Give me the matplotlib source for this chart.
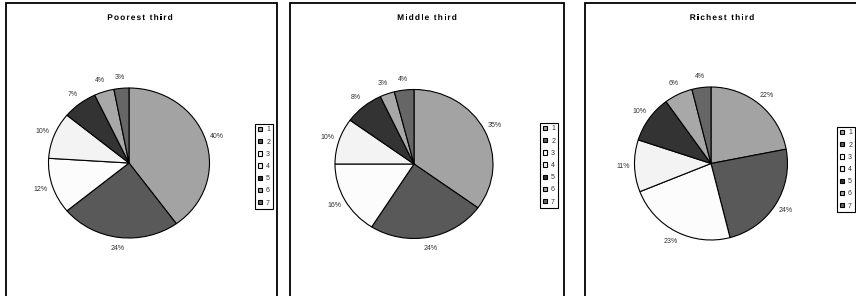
import matplotlib.pyplot as plt
import matplotlib.patches as mpatches
from matplotlib.textpath import TextPath, TextToPath
from matplotlib.font_manager import FontProperties
from matplotlib.transforms import IdentityTransform

plt.rcParams['font.family'] = ['Liberation Sans', 'DejaVu Sans']

W, H, DPI = 856, 296, 100

titles = ['Poorest third', 'Middle third', 'Richest third']
categories = ['1', '2', '3', '4', '5', '6', '7']
poorest = [40, 24, 12, 10, 7, 4, 3]
middle = [35, 24, 16, 10, 8, 3, 4]
richest = [22, 24, 23, 11, 10, 6, 4]
shares = [poorest, middle, richest]

colors = ['#a3a3a3', '#595959', '#fcfcfc', '#f3f3f3', '#333333', '#a8a8a8', '#666666']

# pixel geometry: pie centre, radii, panel box, title x, legend left/centre
pies = [(129, 163, 80.5, 75), (414, 164, 79, 74.5), (711, 163.5, 76.5, 76.5)]
panels = [(5.5, 277), (290, 564), (585, 880)]
title_x = [140, 427, 722]
legend_pos = [(255, 166.5), (540, 165.5), (837, 169.5)]

fig = plt.figure(figsize=(W / DPI, H / DPI), dpi=DPI)
fig.patch.set_facecolor('white')

t2p = TextToPath()
title_prop = FontProperties(family='Liberation Sans', weight='bold')


def spaced_title(xc, baseline, s, px, gap):
    # letter-spaced title drawn as glyph paths so nothing gets snapped to whole pixels
    prop = title_prop.copy()
    prop.set_size(px)
    base = t2p.get_text_width_height_descent('|', prop, ismath=False)[0]
    adv = [t2p.get_text_width_height_descent(ch + '|', prop, ismath=False)[0] - base for ch in s]
    total = sum(adv) + gap * (len(s) - 1)
    x = xc - total / 2
    for ch, w in zip(s, adv):
        if ch != ' ':
            tp = TextPath((x, H - baseline), ch, size=px, prop=title_prop)
            fig.patches.append(mpatches.PathPatch(tp, transform=IdentityTransform(),
                                                  facecolor='black', edgecolor='none'))
        x += w + gap


L = 1.45
for i in range(3):
    x0, x1 = panels[i]
    fig.patches.append(mpatches.Rectangle((x0 / W, -0.1), (x1 - x0) / W, 1.1 - 3 / H,
                                          transform=fig.transFigure, fill=False,
                                          edgecolor='black', linewidth=1.3))
    cx, cy, rx, ry = pies[i]
    ax = fig.add_axes([(cx - L * rx) / W, (H - cy - L * ry) / H, 2 * L * rx / W, 2 * L * ry / H])
    labels = [f'{v}%' for v in shares[i]]
    wedges, texts = ax.pie(shares[i], colors=colors, startangle=90, counterclock=False,
                           labels=labels, labeldistance=1.15,
                           wedgeprops=dict(edgecolor='black', linewidth=0.8),
                           textprops=dict(fontsize=5, color='#333333'))
    for t in texts:
        t.set_ha('center')
        t.set_va('center')
    ax.set_aspect('auto')
    ax.set_xlim(-L, L)
    ax.set_ylim(-L, L)
    ax.axis('off')

    spaced_title(title_x[i], 20, titles[i], 8.3, 1.15)

    handles = [mpatches.Patch(facecolor=c, edgecolor='black', linewidth=0.8) for c in colors]
    lx, ly = legend_pos[i]
    leg = fig.legend(handles, categories, loc='center left',
                     bbox_to_anchor=(lx / W, 1 - ly / H), fontsize=5,
                     handlelength=0.6, handleheight=0.6, handletextpad=0.6,
                     labelspacing=0.75, borderpad=0.4, borderaxespad=0,
                     fancybox=False, framealpha=1)
    leg.get_frame().set_edgecolor('black')
    leg.get_frame().set_linewidth(0.8)
    for t in leg.get_texts():
        t.set_color('#333333')

fig.savefig('out.png', dpi=DPI)
